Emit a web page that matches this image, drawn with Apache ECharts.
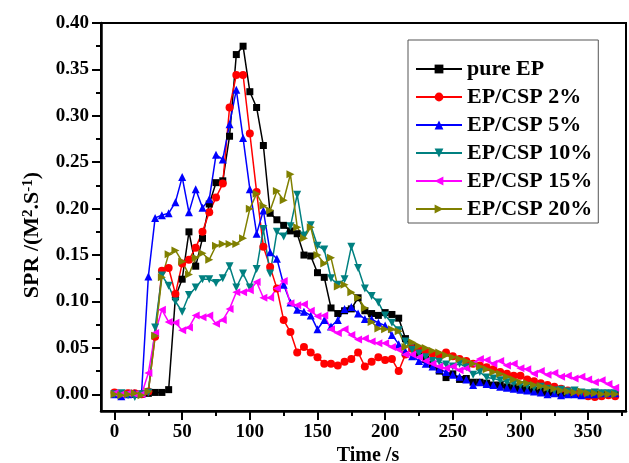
<!DOCTYPE html>
<html>
<head>
<meta charset="utf-8">
<script src="https://cdn.jsdelivr.net/npm/echarts@6/dist/echarts.min.js"></script>
<style>
  html, body { margin: 0; padding: 0; background: #fff; }
  #chart { width: 629px; height: 463px; }
</style>
</head>
<body>
<div id="chart"></div>
<script>
// time (s), one reading every 5 s
var times = [
  0, 5, 10, 15, 20, 25, 30, 35, 40, 45,
  50, 55, 60, 65, 70, 75, 80, 85, 90, 95,
  100, 105, 110, 115, 120, 125, 130, 135, 140, 145,
  150, 155, 160, 165, 170, 175, 180, 185, 190, 195,
  200, 205, 210, 215, 220, 225, 230, 235, 240, 245,
  250, 255, 260, 265, 270, 275, 280, 285, 290, 295,
  300, 305, 310, 315, 320, 325, 330, 335, 340, 345,
  350, 355, 360, 365, 370
]

var pureEP = [
  0.001, 0.000, 0.001, 0.000, 0.000, 0.001, 0.002, 0.002, 0.005, 0.105,
  0.124, 0.175, 0.138, 0.168, 0.205, 0.228, 0.230, 0.278, 0.366, 0.375,
  0.326, 0.309, 0.268, 0.195, 0.188, 0.182, 0.176, 0.173, 0.150, 0.149,
  0.131, 0.126, 0.093, 0.087, 0.090, 0.092, 0.104, 0.090, 0.087, 0.085,
  0.088, 0.086, 0.082, 0.060, 0.050, 0.043, 0.038, 0.032, 0.025, 0.018,
  0.022, 0.016, 0.017, 0.013, 0.013, 0.012, 0.010, 0.010, 0.008, 0.007,
  0.006, 0.005, 0.004, 0.003, 0.002, 0.002, 0.001, 0.001, 0.000, 0.000,
  0.001, 0.000, 0.000, 0.000, 0.000
]

var csp2 = [
  0.002, 0.000, 0.001, 0.001, 0.000, 0.003, 0.062, 0.133, 0.136, 0.108,
  0.141, 0.145, 0.158, 0.175, 0.196, 0.212, 0.227, 0.309, 0.344, 0.344,
  0.281, 0.218, 0.159, 0.137, 0.114, 0.080, 0.067, 0.045, 0.051, 0.045,
  0.040, 0.033, 0.033, 0.031, 0.035, 0.038, 0.045, 0.030, 0.035, 0.040,
  0.037, 0.038, 0.025, 0.043, 0.049, 0.048, 0.046, 0.044, 0.042, 0.045,
  0.041, 0.038, 0.036, 0.033, 0.031, 0.029, 0.027, 0.024, 0.022, 0.020,
  0.020, 0.016, 0.014, 0.012, 0.010, 0.008, 0.006, 0.004, 0.002, 0.000,
  -0.002, -0.003, -0.002, -0.001, -0.002
]

var csp5 = [
  0.000, -0.002, 0.000, 0.001, 0.002, 0.127, 0.190, 0.193, 0.195, 0.207,
  0.234, 0.196, 0.221, 0.201, 0.210, 0.258, 0.253, 0.291, 0.328, 0.276,
  0.221, 0.173, 0.198, 0.153, 0.146, 0.118, 0.099, 0.091, 0.089, 0.085,
  0.070, 0.080, 0.073, 0.080, 0.092, 0.094, 0.087, 0.081, 0.081, 0.077,
  0.074, 0.064, 0.054, 0.046, 0.041, 0.036, 0.033, 0.030, 0.027, 0.024,
  0.021, 0.019, 0.016, 0.010, 0.013, 0.011, 0.010, 0.008, 0.007, 0.006,
  0.005, 0.004, 0.003, 0.002, 0.000, 0.001, -0.001, 0.000, 0.000, -0.001,
  0.000, 0.000, 0.001, 0.001, 0.001
]

var csp10 = [
  0.000, 0.001, -0.001, -0.003, 0.000, 0.002, 0.072, 0.128, 0.117, 0.100,
  0.089, 0.107, 0.115, 0.124, 0.124, 0.120, 0.125, 0.138, 0.115, 0.130,
  0.115, 0.135, 0.178, 0.130, 0.175, 0.170, 0.181, 0.215, 0.171, 0.182,
  0.160, 0.156, 0.125, 0.118, 0.124, 0.159, 0.136, 0.114, 0.106, 0.099,
  0.085, 0.077, 0.069, 0.057, 0.048, 0.044, 0.040, 0.036, 0.035, 0.032,
  0.030, 0.033, 0.029, 0.021, 0.024, 0.018, 0.017, 0.015, 0.013, 0.012,
  0.010, 0.009, 0.007, 0.008, 0.006, 0.004, 0.005, 0.003, 0.004, 0.002,
  0.001, 0.002, 0.001, 0.001, 0.001
]

var csp15 = [
  0.001, 0.000, 0.001, 0.000, 0.000, 0.023, 0.066, 0.091, 0.078, 0.077,
  0.069, 0.072, 0.085, 0.083, 0.085, 0.076, 0.080, 0.092, 0.110, 0.110,
  0.112, 0.121, 0.104, 0.104, 0.114, 0.122, 0.098, 0.096, 0.097, 0.090,
  0.084, 0.085, 0.070, 0.066, 0.070, 0.064, 0.059, 0.060, 0.057, 0.055,
  0.055, 0.051, 0.048, 0.043, 0.043, 0.040, 0.036, 0.033, 0.030, 0.028,
  0.030, 0.026, 0.028, 0.033, 0.038, 0.037, 0.033, 0.036, 0.031, 0.033,
  0.028, 0.027, 0.022, 0.025, 0.021, 0.023, 0.019, 0.020, 0.017, 0.019,
  0.016, 0.013, 0.015, 0.011, 0.007
]

var csp20 = [
  0.000, -0.001, 0.000, 0.001, -0.001, 0.003, 0.063, 0.126, 0.151, 0.155,
  0.143, 0.129, 0.147, 0.152, 0.145, 0.160, 0.162, 0.162, 0.162, 0.168,
  0.200, 0.216, 0.203, 0.198, 0.219, 0.209, 0.237, 0.180, 0.168, 0.180,
  0.150, 0.141, 0.147, 0.116, 0.118, 0.110, 0.104, 0.093, 0.078, 0.071,
  0.070, 0.070, 0.068, 0.051, 0.056, 0.052, 0.050, 0.047, 0.045, 0.042,
  0.040, 0.038, 0.036, 0.033, 0.030, 0.027, 0.024, 0.022, 0.019, 0.016,
  0.013, 0.012, 0.010, 0.009, 0.007, 0.006, 0.004, 0.003, 0.002, 0.003,
  0.001, 0.001, 0.000, 0.000, 0.000
]

var xMajor = [0, 50, 100, 150, 200, 250, 300, 350]
var xMinor = [25, 75, 125, 175, 225, 275, 325, 375]
var yMajor = [0, 0.05, 0.10, 0.15, 0.20, 0.25, 0.30, 0.35, 0.40]
var yMinor = [0.025, 0.075, 0.125, 0.175, 0.225, 0.275, 0.325, 0.375]

var FONT = 'Liberation Serif'

var triDown = 'path://M0,0 L10,0 L5,9 Z'
var triLeft = 'path://M9,0 L9,10 L0,5 Z'
var triRight = 'path://M0,0 L9,5 L0,10 Z'

function pairs(vals) {
  return times.map(function (t, i) { return [t, vals[i]] })
}

function line(name, vals, color, symbol, size) {
  return {
    name: name,
    type: 'line',
    data: pairs(vals),
    symbol: symbol,
    symbolSize: size,
    showAllSymbol: true,
    lineStyle: { color: color, width: 1.5 },
    itemStyle: { color: color },
    emphasis: { disabled: true }
  }
}

var chart = echarts.init(document.getElementById('chart'))
var option = {
  animation: false,
  backgroundColor: '#fff',
  grid: {
    left: 101,
    top: 23,
    right: 3,
    bottom: 52,
    show: true,
    borderColor: '#000',
    borderWidth: 2
  },
  legend: {
    orient: 'vertical',
    left: 408,
    top: 40,
    backgroundColor: '#fff',
    borderColor: '#555',
    borderWidth: 1,
    padding: [18, 6, 3, 7],
    itemGap: 6,
    itemWidth: 46,
    itemHeight: 11,
    itemTextGap: 6,
    textStyle: { fontFamily: FONT, fontWeight: 'bold', fontSize: 22, color: '#000', lineHeight: 22 },
    data: ['pure EP', 'EP/CSP 2%', 'EP/CSP 5%', 'EP/CSP 10%', 'EP/CSP 15%', 'EP/CSP 20%']
  },
  xAxis: [
    {
      type: 'value',
      min: -10,
      max: 378,
      axisLine: { onZero: false, lineStyle: { color: '#000', width: 2.5 } },
      axisTick: { inside: false, length: 9, customValues: xMajor, lineStyle: { color: '#000', width: 2 } },
      axisLabel: { customValues: xMajor, margin: 12, fontFamily: FONT, fontWeight: 'bold', fontSize: 19, color: '#000' },
      splitLine: { show: false }
    },
    {
      type: 'value',
      position: 'bottom',
      min: -10,
      max: 378,
      axisLine: { show: false, onZero: false },
      axisTick: { inside: false, length: 5, customValues: xMinor, lineStyle: { color: '#000', width: 2 } },
      axisLabel: { show: false },
      splitLine: { show: false }
    }
  ],
  yAxis: [
    {
      type: 'value',
      min: -0.018,
      max: 0.40,
      axisLine: { onZero: false, lineStyle: { color: '#000', width: 2.5 } },
      axisTick: { inside: false, length: 9, customValues: yMajor, lineStyle: { color: '#000', width: 2 } },
      axisLabel: {
        customValues: yMajor,
        margin: 12,
        fontFamily: FONT, fontWeight: 'bold', fontSize: 19, color: '#000',
        formatter: function (v) { return v.toFixed(2) }
      },
      splitLine: { show: false }
    },
    {
      type: 'value',
      position: 'left',
      min: -0.018,
      max: 0.40,
      axisLine: { show: false, onZero: false },
      axisTick: { inside: false, length: 5, customValues: yMinor, lineStyle: { color: '#000', width: 2 } },
      axisLabel: { show: false },
      splitLine: { show: false }
    }
  ],
  graphic: [
    {
      type: 'text',
      x: 32,
      y: 235,
      rotation: Math.PI / 2,
      style: {
        text: 'SPR /(M{sup|2}.S{sup|-1})',
        fontFamily: FONT,
        fontWeight: 'bold',
        fontSize: 22,
        fill: '#000',
        align: 'center',
        verticalAlign: 'middle',
        rich: {
          sup: { fontFamily: FONT, fontWeight: 'bold', fontSize: 15, fill: '#000', verticalAlign: 'top' }
        }
      }
    },
    {
      type: 'text',
      x: 368,
      y: 456,
      style: {
        text: 'Time /s',
        fontFamily: FONT,
        fontWeight: 'bold',
        fontSize: 20,
        fill: '#000',
        align: 'center',
        verticalAlign: 'middle'
      }
    }
  ],
  series: [
    line('pure EP', pureEP, '#000000', 'rect', 7),
    line('EP/CSP 2%', csp2, '#ff0000', 'circle', 8),
    line('EP/CSP 5%', csp5, '#0000ff', 'triangle', 8),
    line('EP/CSP 10%', csp10, '#008080', triDown, 8),
    line('EP/CSP 15%', csp15, '#ff00ff', triLeft, 8),
    line('EP/CSP 20%', csp20, '#808000', triRight, 8)
  ]
}
chart.setOption(option)
</script>
</body>
</html>
